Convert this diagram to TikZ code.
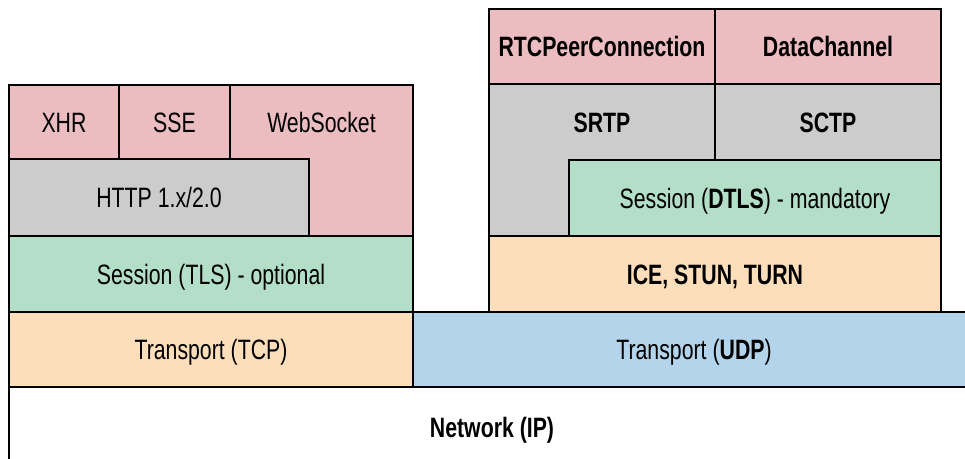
\documentclass[tikz,border=0pt]{standalone}
\usepackage{fontspec}
\setmainfont{Liberation Sans}[FakeStretch=0.76]
\definecolor{apipink}{HTML}{ECBDC0}
\definecolor{protogray}{HTML}{CCCCCC}
\definecolor{sessgreen}{HTML}{B3DEC8}
\definecolor{transpeach}{HTML}{FDDEBB}
\definecolor{udpblue}{HTML}{B3D4EA}
\begin{document}
\begin{tikzpicture}[x=1pt, y=-1pt,
    layer/.style={draw, line width=1.8pt, inner sep=0pt, text height=20pt, text depth=0pt,
      font=\fontsize{28}{32}\selectfont},
    tag/.style={inner sep=0pt, text height=20pt, text depth=0pt, font=\fontsize{28}{32}\selectfont}]
    \clip (0, 0) rectangle (965, 458);
    \node[layer, fill=white, minimum width=966pt, minimum height=80pt] (net) at (492, 427) {\textbf{Network (IP)}};
    \node[layer, fill=udpblue, minimum width=562pt, minimum height=75pt] (udp) at (694, 349.5) {Transport (\textbf{UDP})};
    \node[layer, fill=transpeach, minimum width=404pt, minimum height=75pt] (tcp) at (211, 349.5) {Transport (TCP)};
    \node[layer, fill=sessgreen, minimum width=404pt, minimum height=76pt] (tls) at (211, 274) {Session (TLS) - optional};
    \node[layer, fill=apipink, minimum width=183pt, minimum height=151pt] (ws) at (321.5, 160.5) {};
    \node[tag] (wstext) at (321.5, 122) {WebSocket};
    \node[layer, fill=protogray, minimum width=300pt, minimum height=77pt] (http) at (159, 197.5) {HTTP 1.x/2.0};
    \node[layer, fill=apipink, minimum width=110pt, minimum height=74pt] (xhr) at (64, 122) {XHR};
    \node[layer, fill=apipink, minimum width=111pt, minimum height=74pt] (sse) at (174.5, 122) {SSE};
    \node[layer, fill=transpeach, minimum width=452pt, minimum height=76pt] (ice) at (715, 274) {\textbf{ICE, STUN, TURN}};
    \node[layer, fill=protogray, minimum width=226pt, minimum height=152pt] (srtp) at (602, 160) {};
    \node[tag] (srtptext) at (602, 122) {\textbf{SRTP}};
    \node[layer, fill=sessgreen, minimum width=372pt, minimum height=76pt] (dtls) at (755, 198) {Session (\textbf{DTLS}) - mandatory};
    \node[layer, fill=protogray, minimum width=226pt, minimum height=76pt] (sctp) at (828, 122) {\textbf{SCTP}};
    \node[layer, fill=apipink, minimum width=226pt, minimum height=75pt] (rtc) at (602, 46.5) {\textbf{RTCPeerConnection}};
    \node[layer, fill=apipink, minimum width=226pt, minimum height=75pt] (dc) at (828, 46.5) {\textbf{DataChannel}};
\end{tikzpicture}
\end{document}
